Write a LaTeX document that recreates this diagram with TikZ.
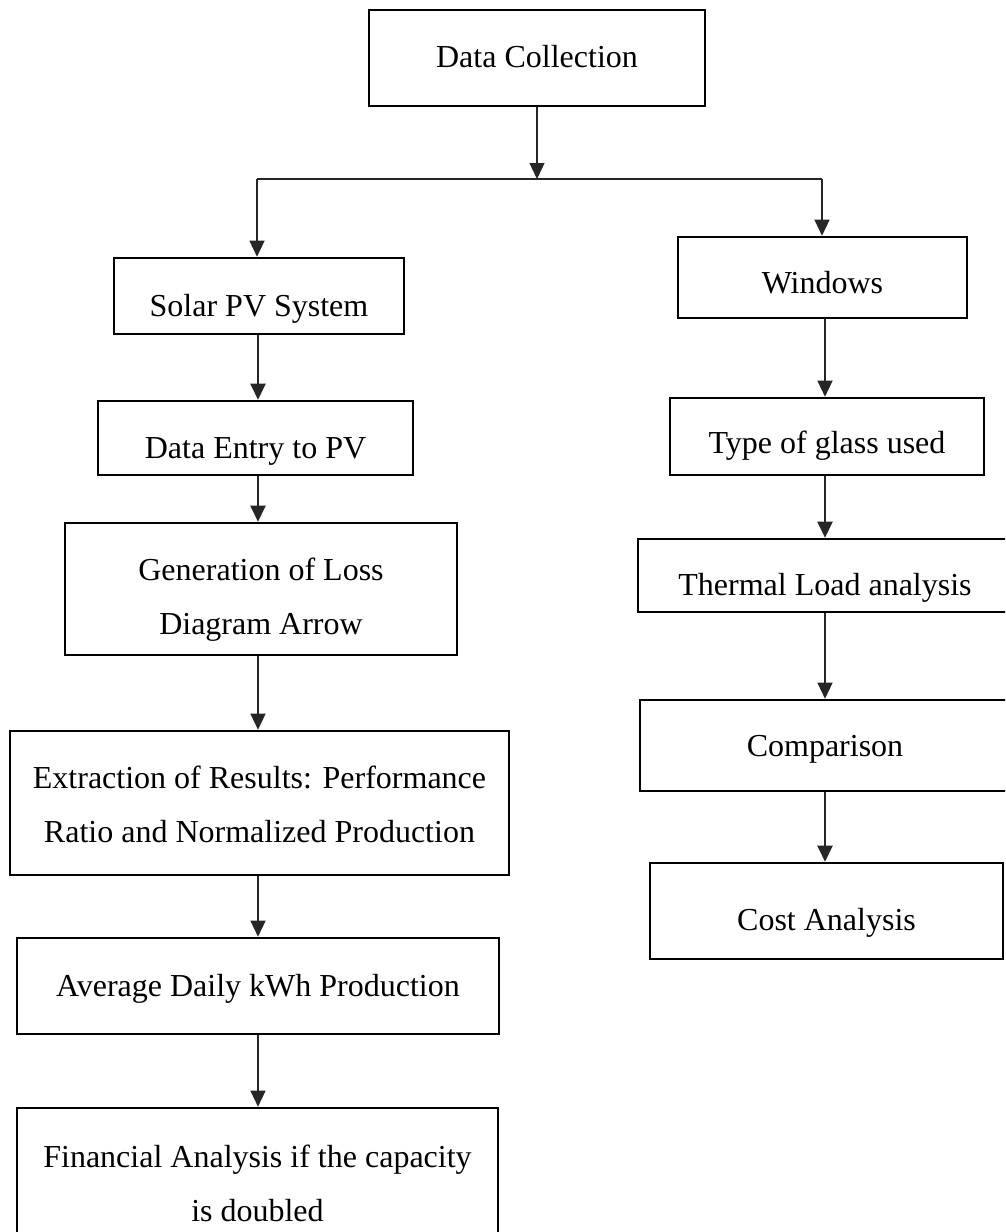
\documentclass[tikz,border=0pt]{standalone}
\usepackage{fontspec}
\setmainfont{Liberation Serif}
\usetikzlibrary{arrows.meta}
% Box text: lines set in a top-aligned tabular, first baseline dropped #1 pt below the box centre
\newcommand\boxlines[2]{\raisebox{-#1pt}[0pt][0pt]{\begin{tabular}[t]{@{}c@{}}#2\end{tabular}}}
\begin{document}
\begin{tikzpicture}[x=1pt,y=-1pt,
  box/.style={draw, line width=2.6pt, inner sep=0pt, font=\fontsize{32}{54}\selectfont},
  link/.style={line width=1.3pt, draw=black!85, -{Triangle[length=16pt,width=15pt]}},
  thicklink/.style={link, line width=2.4pt},
  bar/.style={line width=1.3pt, draw=black!85}]
\useasboundingbox (0,0) rectangle (1005,1232);
\clip (0,0) rectangle (1005,1232);

% top box
\node[box, minimum width=336pt, minimum height=96pt] (dc) at (537,58) {\boxlines{9}{Data Collection}};

% left column: solar PV branch
\node[box, minimum width=290pt, minimum height=76pt] (solar) at (259,296) {\boxlines{20}{Solar PV System}};
\node[box, minimum width=315pt, minimum height=74pt] (entry) at (255.5,438) {\boxlines{20}{Data Entry to PV}};
\node[box, minimum width=392pt, minimum height=132pt] (gen) at (261,589) {\boxlines{-9}{Generation of Loss\\Diagram Arrow}};
\node[box, minimum width=499pt, minimum height=144pt] (extr) at (259.5,803) {\boxlines{-15}{Extraction of Results: Performance\\Ratio and Normalized Production}};
\node[box, minimum width=482pt, minimum height=96pt] (avg) at (258,986) {\boxlines{10}{Average Daily kWh Production}};
\node[box, minimum width=481pt, minimum height=152pt] (fin) at (257.5,1184) {\boxlines{-17}{Financial Analysis if the capacity\\is doubled}};

% right column: windows branch
\node[box, minimum width=289pt, minimum height=81pt] (win) at (822.5,277.5) {\boxlines{15.5}{Windows}};
\node[box, minimum width=314pt, minimum height=77pt] (glass) at (827,436.5) {\boxlines{16.5}{Type of glass used}};
\node[box, minimum width=374pt, minimum height=73pt] (therm) at (825,575.5) {\boxlines{19.5}{Thermal Load analysis}};
\node[box, minimum width=370pt, minimum height=91pt] (comp) at (825,745.5) {\boxlines{10.5}{Comparison}};
\node[box, minimum width=353pt, minimum height=96pt] (cost) at (826.5,911) {\boxlines{19}{Cost Analysis}};

% split of the flow into the two branches
\coordinate (split) at (537,179);
\coordinate (barL) at (257,179);
\coordinate (barR) at (822,179);
\coordinate (colL) at (258,0);
\coordinate (colR) at (825,0);

\draw[link] (dc.south) -- (split);
\draw[bar] (barL) -- (barR);
\draw[link] (barL) -- (barL |- solar.north);
\draw[link] (barR) -- (barR |- win.north);

% left column connectors
\draw[thicklink] (solar.south -| colL) -- (entry.north -| colL);
\draw[thicklink] (entry.south -| colL) -- (gen.north -| colL);
\draw[link] (gen.south -| colL) -- (extr.north -| colL);
\draw[link] (extr.south -| colL) -- (avg.north -| colL);
\draw[link] (avg.south -| colL) -- (fin.north -| colL);

% right column connectors
\draw[link] (win.south -| colR) -- (glass.north -| colR);
\draw[thicklink] (glass.south -| colR) -- (therm.north -| colR);
\draw[link] (therm.south -| colR) -- (comp.north -| colR);
\draw[thicklink] (comp.south -| colR) -- (cost.north -| colR);
\end{tikzpicture}
\end{document}
